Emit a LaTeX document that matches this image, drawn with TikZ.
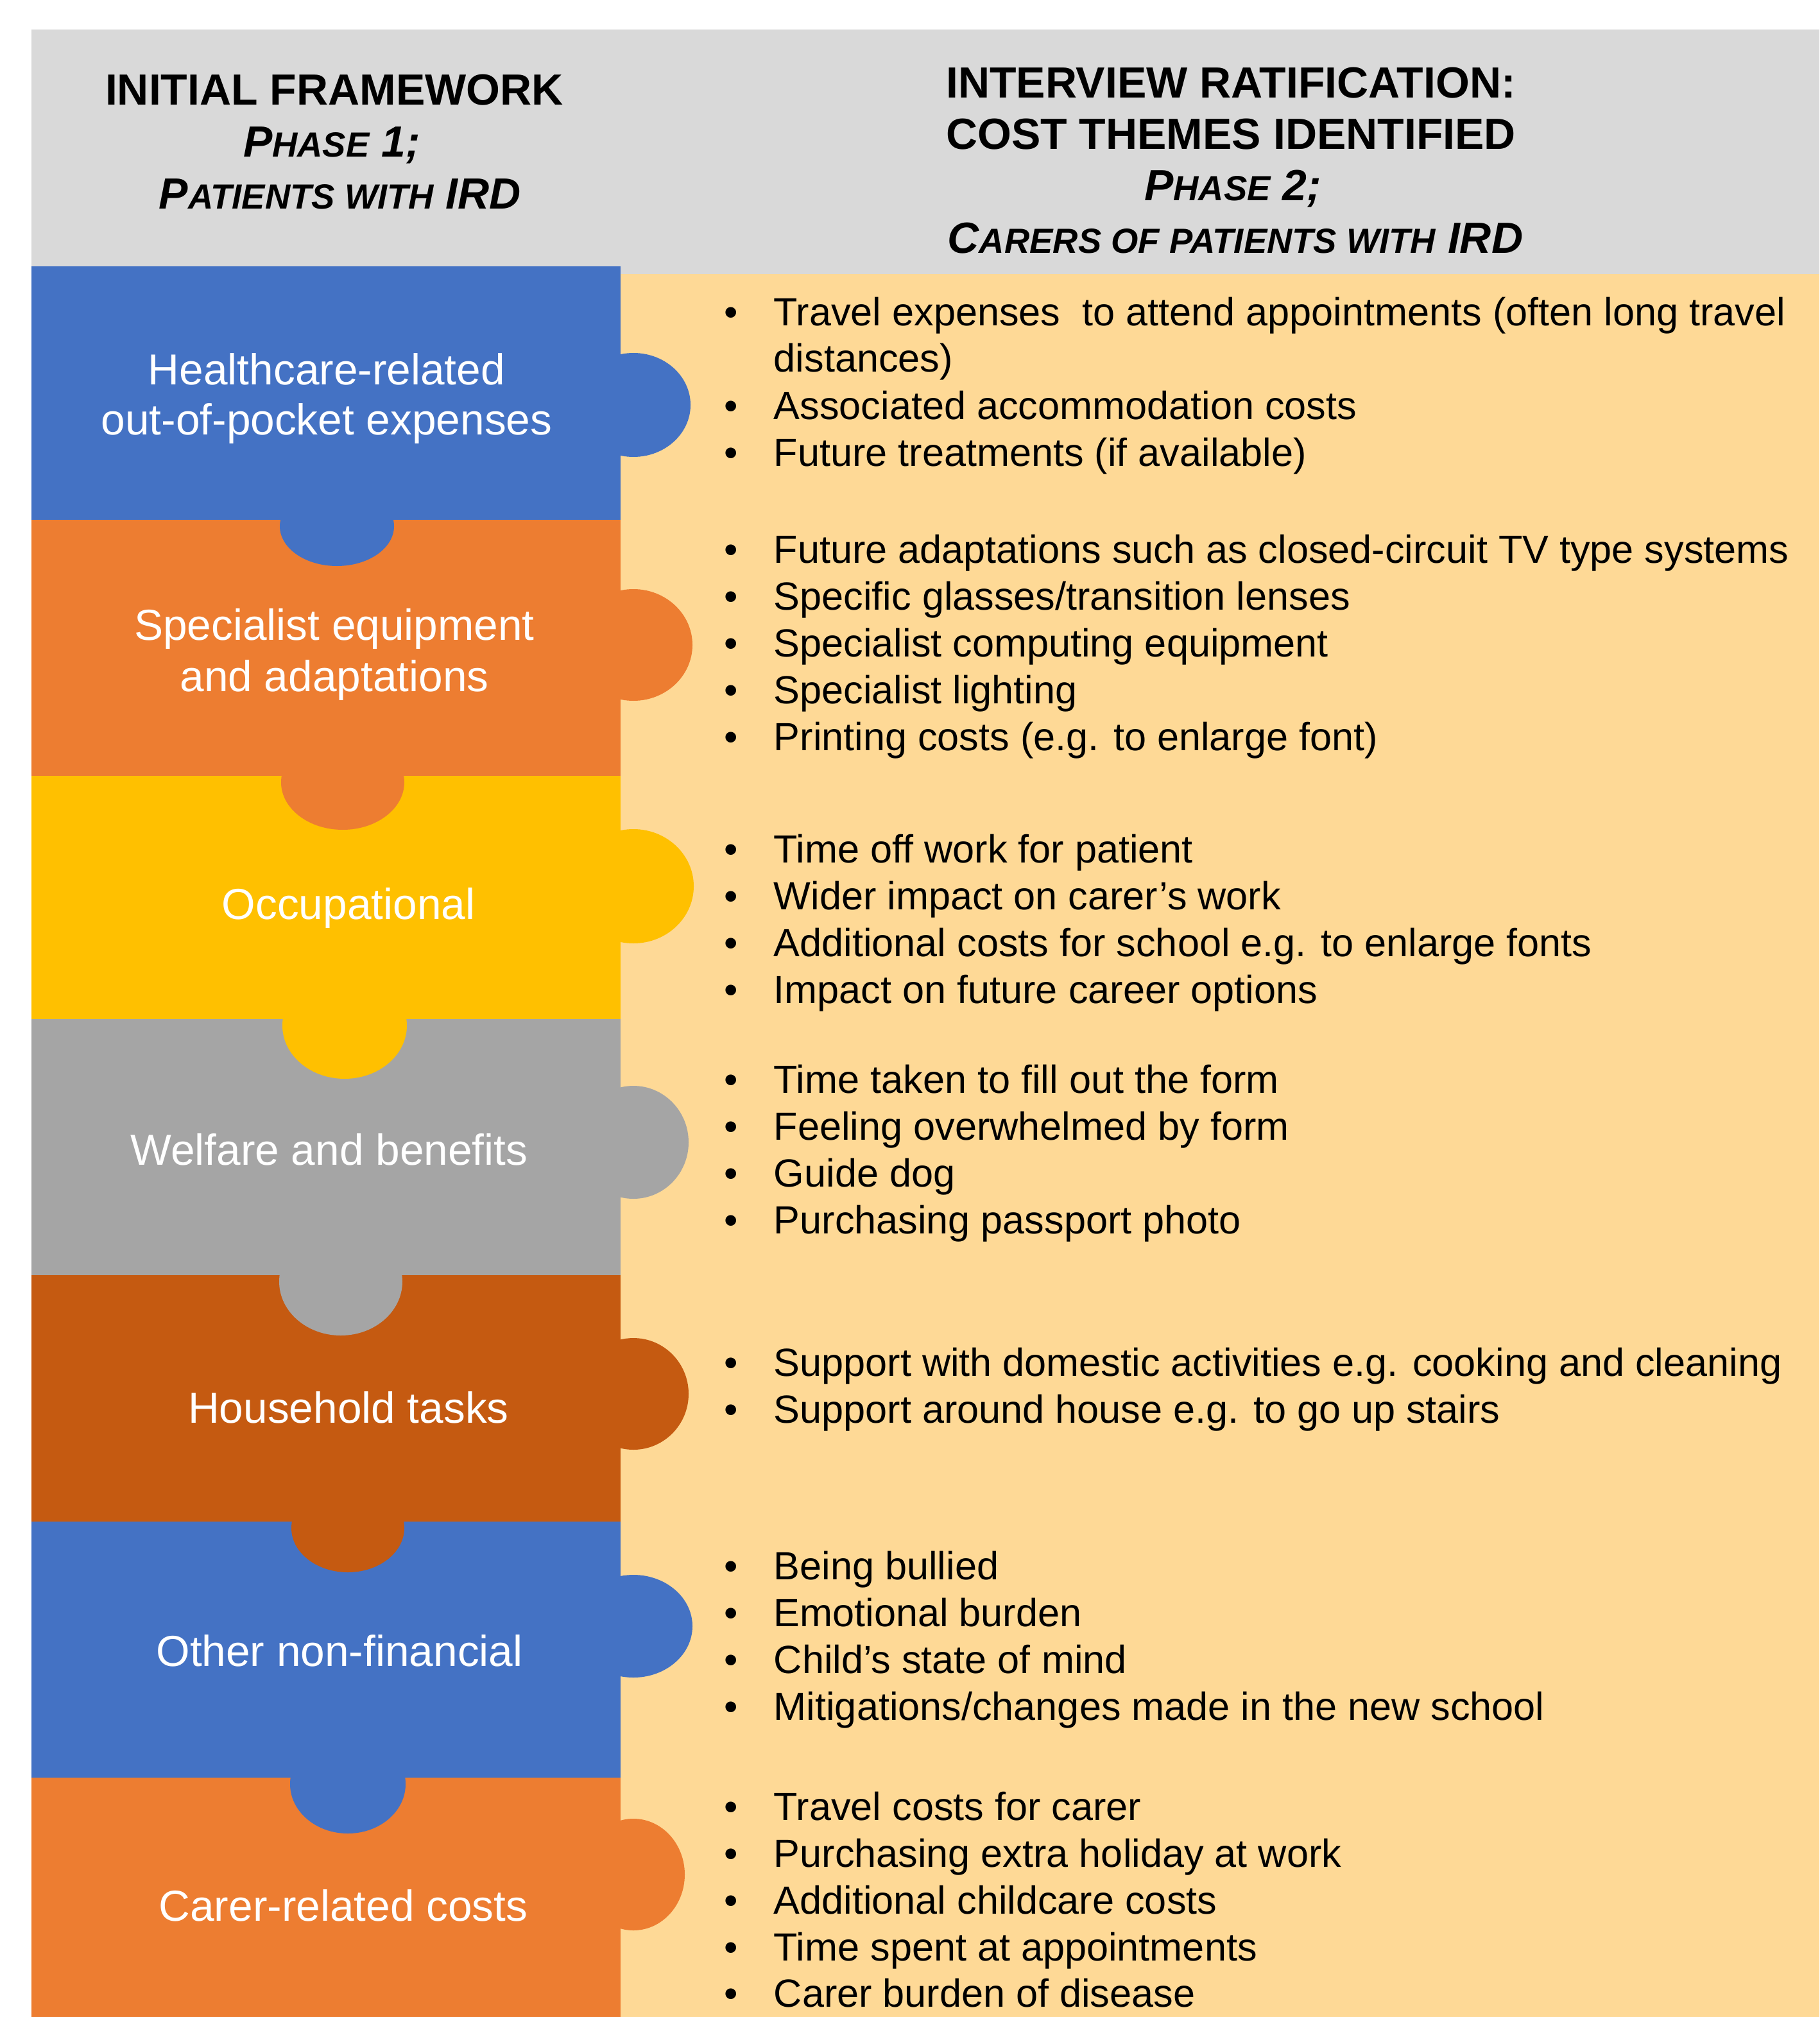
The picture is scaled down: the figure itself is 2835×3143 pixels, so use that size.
\documentclass[tikz,border=0pt]{standalone}
\usepackage{fontspec}
\setmainfont{Liberation Sans}

\definecolor{hdrgray}{HTML}{D9D9D9}
\definecolor{peach}{HTML}{FED996}
\definecolor{pblue}{HTML}{4472C4}
\definecolor{porange}{HTML}{ED7D31}
\definecolor{pyellow}{HTML}{FFC000}
\definecolor{pgray}{HTML}{A5A5A5}
\definecolor{pdark}{HTML}{C55A11}

% reduced capitals for the small-caps look of the header
\newcommand\smc[1]{{\fontsize{13.6}{16}\selectfont #1}}
% one bulleted line: name, baseline, text
\newcommand\itemrow[3]{%
  \node[bul] (#1-dot) at (1139,#2) {\textbullet};
  \node[itm] (#1) at (1205,#2) {#3};}

\begin{document}
\begin{tikzpicture}[x=0.25pt,y=-0.25pt,
  hdr/.style={font=\fontsize{17}{20}\selectfont\bfseries, anchor=base, inner sep=0pt},
  hdrsc/.style={font=\fontsize{17}{20}\selectfont\bfseries\itshape, anchor=base, inner sep=0pt},
  lab/.style={font=\fontsize{16.9}{20}\selectfont, text=white, anchor=base, inner sep=0pt},
  itm/.style={font=\fontsize{15.3}{18}\selectfont, anchor=base west, inner sep=0pt},
  bul/.style={font=\fontsize{15.3}{18}\selectfont, anchor=base, inner sep=0pt},
]
\useasboundingbox (0,0) rectangle (2835,3143);
\fill[white] (0,0) rectangle (2835,3143);

% header band and the right-hand panel
\fill[hdrgray] (49,46) rectangle (2835,427);
\fill[peach] (967,427) rectangle (2835,3143);

% puzzle pieces of the left column
\fill[pblue]   (49,415)  rectangle (967,810);
\fill[porange] (49,810)  rectangle (967,1209);
\fill[pyellow] (49,1209) rectangle (967,1588);
\fill[pgray]   (49,1588) rectangle (967,1987);
\fill[pdark]   (49,1987) rectangle (967,2371);
\fill[pblue]   (49,2371) rectangle (967,2770);
\fill[porange] (49,2770) rectangle (967,3143);

% knobs pointing right
\fill[pblue]   (987,631)  ellipse [x radius=89, y radius=81];
\fill[porange] (987,1005) ellipse [x radius=92, y radius=87];
\fill[pyellow] (987,1381) ellipse [x radius=94, y radius=89];
\fill[pgray]   (987,1780) ellipse [x radius=86, y radius=88];
\fill[pdark]   (987,2172) ellipse [x radius=86, y radius=87];
\fill[pblue]   (987,2534) ellipse [x radius=92, y radius=80];
\fill[porange] (987,2921) ellipse [x radius=80, y radius=87];

% knobs pointing down into the next piece
\fill[pblue]   (525,820)  ellipse [x radius=89, y radius=62];
\fill[porange] (534,1219) ellipse [x radius=96, y radius=74];
\fill[pyellow] (537,1598) ellipse [x radius=97, y radius=83];
\fill[pgray]   (531,1997) ellipse [x radius=96, y radius=84];
\fill[pdark]   (542,2381) ellipse [x radius=88, y radius=69];
\fill[pblue]   (542,2780) ellipse [x radius=90, y radius=77];

% header texts
\node[hdr]   (h1a) at (521,164) {INITIAL FRAMEWORK};
\node[hdrsc] (h1b) at (517,245) {P\smc{HASE} 1;};
\node[hdrsc] (h1c) at (530,326) {P\smc{ATIENTS WITH} IRD};
\node[hdr]   (h2a) at (1918,153) {INTERVIEW RATIFICATION:};
\node[hdr]   (h2b) at (1918,233) {COST THEMES IDENTIFIED};
\node[hdrsc] (h2c) at (1921,313) {P\smc{HASE} 2;};
\node[hdrsc] (h2d) at (1925,395) {C\smc{ARERS OF PATIENTS WITH} IRD};

% category labels
\node[lab] (l1a) at (509,600)  {Healthcare-related};
\node[lab] (l1b) at (509,678)  {out-of-pocket expenses};
\node[lab] (l2a) at (521,997)  {Specialist equipment};
\node[lab] (l2b) at (521,1077) {and adaptations};
\node[lab] (l3)  at (543,1432) {Occupational};
\node[lab] (l4)  at (513,1815) {Welfare and benefits};
\node[lab] (l5)  at (543,2217) {Household tasks};
\node[lab] (l6)  at (529,2596) {Other non-financial};
\node[lab] (l7)  at (535,2993) {Carer-related costs};

% cost themes
\itemrow{a1}{508}{Travel expenses\ \ to attend appointments (often long travel}
\node[itm] (a1b) at (1205,580) {distances)};
\itemrow{a2}{654}{Associated accommodation costs}
\itemrow{a3}{727}{Future treatments (if available)}

\itemrow{b1}{877}{Future adaptations such as closed-circuit TV type systems}
\itemrow{b2}{950}{Specific glasses/transition lenses}
\itemrow{b3}{1023}{Specialist computing equipment}
\itemrow{b4}{1096}{Specialist lighting}
\itemrow{b5}{1169}{Printing costs (e.g. to enlarge font)}

\itemrow{c1}{1344}{Time off work for patient}
\itemrow{c2}{1417}{Wider impact on carer’s work}
\itemrow{c3}{1490}{Additional costs for school e.g. to enlarge fonts}
\itemrow{c4}{1563}{Impact on future career options}

\itemrow{d1}{1703}{Time taken to fill out the form}
\itemrow{d2}{1776}{Feeling overwhelmed by form}
\itemrow{d3}{1849}{Guide dog}
\itemrow{d4}{1922}{Purchasing passport photo}

\itemrow{e1}{2144}{Support with domestic activities e.g. cooking and cleaning}
\itemrow{e2}{2217}{Support around house e.g. to go up stairs}

\itemrow{f1}{2461}{Being bullied}
\itemrow{f2}{2534}{Emotional burden}
\itemrow{f3}{2607}{Child’s state of mind}
\itemrow{f4}{2680}{Mitigations/changes made in the new school}

\itemrow{g1}{2836}{Travel costs for carer}
\itemrow{g2}{2909}{Purchasing extra holiday at work}
\itemrow{g3}{2982}{Additional childcare costs}
\itemrow{g4}{3055}{Time spent at appointments}
\itemrow{g5}{3127}{Carer burden of disease}
\end{tikzpicture}
\end{document}
